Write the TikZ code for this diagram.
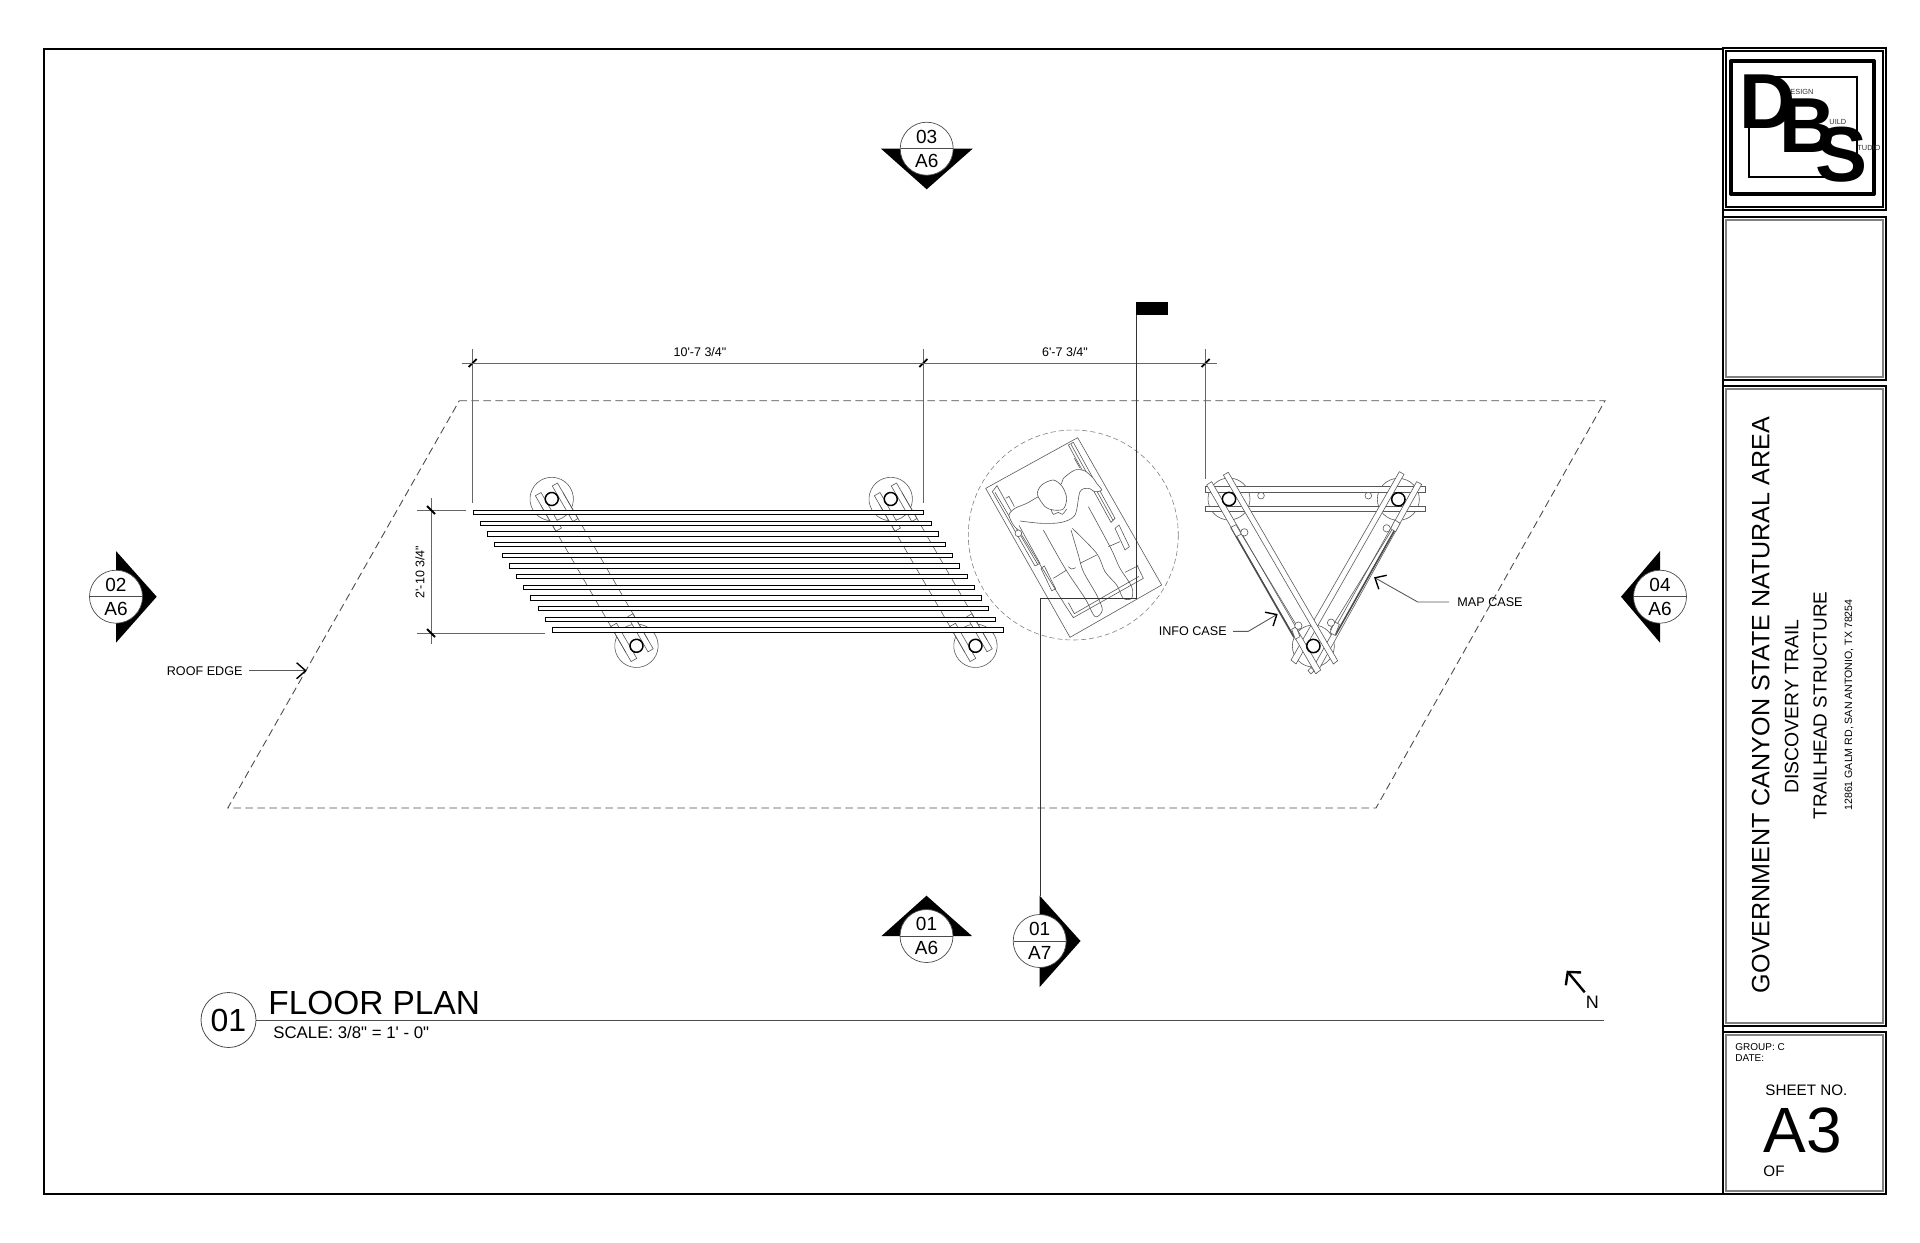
\documentclass[tikz,border=0pt]{standalone}
\usepackage{fontspec}
\setmainfont{Liberation Sans}[Ligatures=TeXOff]
\usepackage{tikz}
\usetikzlibrary{arrows.meta, shapes.multipart}

\newcommand{\fsz}[1]{\fontsize{#1}{#1}\selectfont}

\tikzset{
    sheetline/.style={line width=1pt, black},
    innerline/.style={line width=0.6pt, gray},
    dimline/.style={line width=0.5pt, black!60},
    dimtick/.style={line width=0.9pt, black},
    thinline/.style={line width=0.3pt, black!65},
    roofline/.style={line width=0.45pt, black!70, dash pattern=on 3.8pt off 2.2pt},
    slat/.style={line width=0.5pt, black, fill=white},
    beam/.style={line width=0.3pt, black!65, fill=white},
    leader/.style={line width=0.45pt, black!65},
    barbtip/.style={-{Straight Barb[length=4.5pt, width=8pt, black, line width=0.7pt]}},
    label/.style={font=\fsz{6.3}, inner sep=0pt},
    dimtext/.style={font=\fsz{6.25}, inner sep=0pt},
    logotext/.style={anchor=base west, inner sep=0pt, font=\fsz{3.7}, black!80},
    logoletter/.style={anchor=base west, inner sep=0pt, font=\bfseries\fsz{39}},
    marker/.style={circle split, draw=black!70, line width=0.35pt, fill=white,
        minimum size=25pt, inner xsep=0.5pt, inner ysep=2.4pt, font=\fsz{9.5}},
}

\begin{document}
\begin{tikzpicture}[x=0.5pt, y=-0.5pt]
    \useasboundingbox (0,0) rectangle (1920,1242);

    % Sheet frame and title block
    \draw[sheetline] (44,49) rectangle (1723,1194);
    \foreach \ya/\yb in {48/210, 217/380, 386/1026, 1032/1194} {
        \draw[sheetline] (1723,\ya) rectangle (1886,\yb);
        \draw[innerline] (1726,\ya+3) rectangle (1883,\yb-3);
    }
    \draw[sheetline] (1726,51) rectangle (1883,207);

    % Logo
    \draw[line width=2pt, line join=round] (1731,61) rectangle (1874,194);
    \draw[line width=1pt] (1749,77) rectangle (1857,177);
    \node[logotext] (esign) at (1790,94) {ESIGN};
    \node[logotext] (uild) at (1829,124) {UILD};
    \node[logotext] (tudio) at (1857,150.5) {TUDIO};
    \node[logoletter] (logod) at (1739,128) {D};
    \node[logoletter] (logob) at (1779,152) {B};
    \node[logoletter] (logos) at (1815,181) {S};

    % Title block text
    \node[rotate=90, inner sep=0pt, font=\fsz{12.55}] (site) at (1760.7,705) {GOVERNMENT CANYON STATE NATURAL AREA};
    \node[rotate=90, inner sep=0pt, font=\fsz{9.7}] (trail) at (1791.7,706.5) {DISCOVERY TRAIL};
    \node[rotate=90, inner sep=0pt, font=\fsz{9.45}] (struct) at (1820,705.5) {TRAILHEAD STRUCTURE};
    \node[rotate=90, inner sep=0pt, font=\fsz{5.3}] (addr) at (1849,705) {12861 GALM RD, SAN ANTONIO, TX 78254};
    \node[anchor=west, inner sep=0pt, font=\fsz{5}] (group) at (1735,1047.5) {GROUP: C};
    \node[anchor=west, inner sep=0pt, font=\fsz{5}] (date) at (1735,1058.5) {DATE:};
    \node[anchor=west, inner sep=0pt, font=\fsz{7.6}] (sheetno) at (1765,1090) {SHEET NO.};
    \node[anchor=west, inner sep=0pt, font=\fsz{32}] (sheet) at (1763,1130) {A3};
    \node[anchor=west, inner sep=0pt, font=\fsz{7.6}] (sheetof) at (1763,1171) {OF};

    % Roof edge
    \draw[roofline] (459.3,400.7) -- (1605,400.7) -- (1376,808) -- (227.8,808) -- cycle;
    \node[label] (rooftxt) at (204.7,670.7) {ROOF EDGE};
    \coordinate (roofend) at (306.7,670.7);
    \draw[leader, barbtip] (rooftxt.east)+(6,0) -- (roofend);

    % Bench posts and beams, under the slats
    \foreach \bx in {551.7, 890.7} {
        \begin{scope}[shift={(\bx,499)}, rotate=30]
            \draw[thinline] (0,0) circle (21.7);
            \draw[thinline] (0,169.5) circle (21.7);
            \foreach \sx/\sy in {-12.5/-6, 7/13} {
                \draw[beam] (\sx,-11) rectangle (\sy,30);
                \draw[beam] (\sx,180.5) rectangle (\sy,140);
            }
            \draw[thinline] (-12.5,0) -- (-12.5,170);
            \draw[thinline] (13,0) -- (13,170);
            \draw[line width=0.75pt] (0,0) circle (6.5);
            \draw[line width=0.75pt] (0,169.5) circle (6.5);
        \end{scope}
    }

    % Bench slats
    \foreach \i in {0,...,11} {
        \draw[slat] (473.2+7.2*\i,510.5+10.65*\i) rectangle (923.8+7.2*\i,514.9+10.65*\i);
    }

    % Dimensions
    \foreach \dx/\dy in {472.7/503, 923.3/503, 1205.7/479} {
        \draw[dimline] (\dx,349) -- (\dx,\dy);
        \draw[dimtick] (\dx-4,367) -- (\dx+4,359);
    }
    \draw[dimline] (461.7,363) -- (1217,363);
    \node[dimtext] (dima) at (700,351.7) {10'-7 3/4"};
    \node[dimtext] (dimb) at (1065,351.7) {6'-7 3/4"};
    \draw[dimline] (431,498) -- (431,644);
    \draw[dimline] (416.7,510) -- (465.7,510);
    \draw[dimline] (416.7,633) -- (545,633);
    \draw[dimtick] (427,506) -- (435,514);
    \draw[dimtick] (427,629) -- (435,637);
    \node[dimtext, rotate=90] (dimc) at (420,572) {2'-10 3/4"};

    % Wheelchair turning circle and figure
    \draw[line width=0.3pt, black!50, dash pattern=on 2.5pt off 1.5pt] (1073.3,535) circle (105);
    \begin{scope}[shift={(985,435)}, scale=1/3, thinline]
        \draw (278,8) -- (530,450) -- (255,607) -- (2,160) -- cycle;
        % wheels
        \draw (22,170) -- (36,152) -- (165,385) -- (150,393) -- cycle;
        \draw (30,172) -- (158,388);
        \draw (250,30) -- (265,22) -- (390,250) -- (378,262) -- cycle;
        \draw (258,28) -- (384,256);
        \draw (62,190) -- (72,184) -- (88,215);
        \draw (268,70) -- (284,98);
        \draw (168,400) -- (178,393) -- (212,462) -- (200,467) -- cycle;
        \draw (390,280) -- (402,270) -- (433,335) -- (420,345) -- cycle;
        \draw (104,290) -- (240,510) -- (265,548) -- (475,430) -- (456,390);
        \draw (250,503) -- (268,536) -- (462,424);
        \draw (420,412) -- (460,392);
        \draw (205,430) -- (245,405);
        \draw (285,385) -- (335,360);
        \draw (370,335) -- (405,320);
        % person
        \draw[fill=white] plot[smooth] coordinates {(105,258) (170,265) (230,262) (270,240) (285,170) (310,160) (330,170) (350,165) (335,145) (325,130) (300,108) (270,105) (235,130) (225,150) (160,185) (125,205) (90,220) (72,240) (85,270) (100,285)};
        \draw[fill=white] (100,295) circle (10);
        \draw plot[smooth] coordinates {(175,285) (240,400) (300,490) (330,545) (352,525) (335,480) (295,410) (280,360) (258,285)};
        \draw plot[smooth] coordinates {(262,280) (335,355) (360,410) (395,450) (415,490) (440,490) (440,455) (405,400) (380,345) (340,270) (310,215)};
        \draw plot[smooth] coordinates {(250,395) (260,402) (272,398)};
        \draw plot[smooth] coordinates {(198,222) (205,238) (220,232) (232,238) (245,222)};
        \draw[fill=white] plot[smooth cycle] coordinates {(157,178) (170,150) (205,135) (232,155) (245,190) (235,222) (205,225) (180,215)};
    \end{scope}

    % Info and map case structure
    \begin{scope}[shift={(1150,440)}, scale=1/3]
        \draw[thinline] (237,177) circle (63);
        \draw[thinline] (745,178) circle (63);
        \draw[thinline] (490,618) circle (63);
        \draw[beam] (165,140) rectangle (827,157);
        \draw[beam] (165,198) rectangle (827,215);
        \draw[thinline] (327,138) -- (340,138);
        \draw[thinline] (649,138) -- (662,138);
        \draw[thinline, fill=white] (333,167) circle (10);
        \draw[thinline, fill=white] (655,167) circle (10);
        % posts on the right leaning side first
        \draw[beam] (748,95) -- (762,103) -- (438,672) -- (423,660) -- cycle;
        \draw[beam] (800,125) -- (815,133) -- (500,700) -- (485,690) -- cycle;
        \draw[beam] (170,135) -- (185,125) -- (512,690) -- (497,701) -- cycle;
        \draw[beam] (220,105) -- (235,97) -- (563,662) -- (550,672) -- cycle;
        \draw[line width=0.75pt] (237,177) circle (20);
        \draw[line width=0.75pt] (745,178) circle (20);
        \draw[line width=0.75pt] (490,618) circle (20);
        % cases
        \draw[line width=0.8pt, black!70] (243,262) -- (432,592);
        \draw[thinline] (262,262) -- (448,570);
        \draw[line width=0.8pt, black!70] (747,247) -- (556,586);
        \draw[thinline] (725,270) -- (540,570);
        \draw[beam] (243,262) -- (258,254) -- (274,282) -- (259,290) -- cycle;
        \draw[beam] (425,568) -- (438,560) -- (450,590) -- (436,598) -- cycle;
        \draw[beam] (735,240) -- (750,250) -- (737,275) -- (722,266) -- cycle;
        \draw[beam] (553,545) -- (568,553) -- (555,586) -- (540,578) -- cycle;
        \draw[thinline, fill=white] (283,277) circle (11);
        \draw[thinline, fill=white] (445,557) circle (11);
        \draw[thinline, fill=white] (710,265) circle (11);
        \draw[thinline, fill=white] (543,548) circle (11);
        \draw[thinline, fill=white] (483,682) -- (492,692) -- (483,702) -- (474,692) -- cycle;
    \end{scope}

    % Case labels
    \node[label] (infotxt) at (1192.7,631.3) {INFO CASE};
    \coordinate (infobend) at (1248.3,631.3);
    \coordinate (infoend) at (1277.7,614);
    \draw[leader, barbtip] (infotxt.east)+(6,0) -- (infobend) -- (infoend);
    \node[label] (maptxt) at (1490,602) {MAP CASE};
    \coordinate (mapbend) at (1417.7,602);
    \coordinate (mapend) at (1374,577.3);
    \draw[leader, barbtip] (maptxt.west)+(-8,0) -- (mapbend) -- (mapend);

    % Section markers
    \fill (881,148.7) -- (972.7,148.7) -- (926.7,189.3) -- cycle;
    \node[marker] (secnorth) at (926.7,148.7) {03\nodepart{lower}A6};
    \fill (116,551) -- (156.7,596.7) -- (116,642.7) -- cycle;
    \node[marker] (secwest) at (116,596.7) {02\nodepart{lower}A6};
    \fill (1660,551) -- (1621,596.7) -- (1660,642.7) -- cycle;
    \node[marker] (seceast) at (1660,596.7) {04\nodepart{lower}A6};
    \fill (881.5,936) -- (972,936) -- (926.5,895.7) -- cycle;
    \node[marker] (secsouth) at (926.5,936) {01\nodepart{lower}A6};
    \fill (1039.7,895.7) -- (1080.5,941) -- (1039.7,987) -- cycle;
    \node[marker] (seccut) at (1039.7,941) {01\nodepart{lower}A7};

    % Section cut line with flag
    \coordinate (flagtop) at (1136.3,302);
    \coordinate (cutright) at (1136.3,598);
    \coordinate (cutleft) at (1040,598);
    \coordinate (cutend) at (1040,896);
    \draw[line width=0.5pt, black!80] (flagtop) -- (cutright) -- (cutleft) -- (cutend);
    \fill (1136.3,302) rectangle (1167.7,315.3);

    % Drawing title
    \node[circle, draw=black!70, line width=0.4pt, minimum size=27.5pt, inner sep=0pt, font=\fsz{16}] (titlenum) at (228.5,1020) {01};
    \coordinate (titleend) at (1604,1020);
    \draw[line width=0.5pt, black!70] (titlenum.east) -- (titleend);
    \node[anchor=base west, inner sep=0pt, font=\fsz{16.7}] (title) at (268,1014) {FLOOR PLAN};
    \node[anchor=base west, inner sep=0pt, font=\fsz{8.4}] (scaletxt) at (273,1038) {SCALE: 3/8" = 1' - 0"};

    % North arrow
    \node[inner sep=0pt, font=\fsz{9}] (north) at (1592.3,1002.3) {N};
    \coordinate (northtail) at (1584.7,992.3);
    \coordinate (northtip) at (1566.7,970.7);
    \draw[line width=1.2pt, -{Straight Barb[length=4.5pt, width=10pt, line width=1.2pt]}] (northtail) -- (northtip);
\end{tikzpicture}
\end{document}
